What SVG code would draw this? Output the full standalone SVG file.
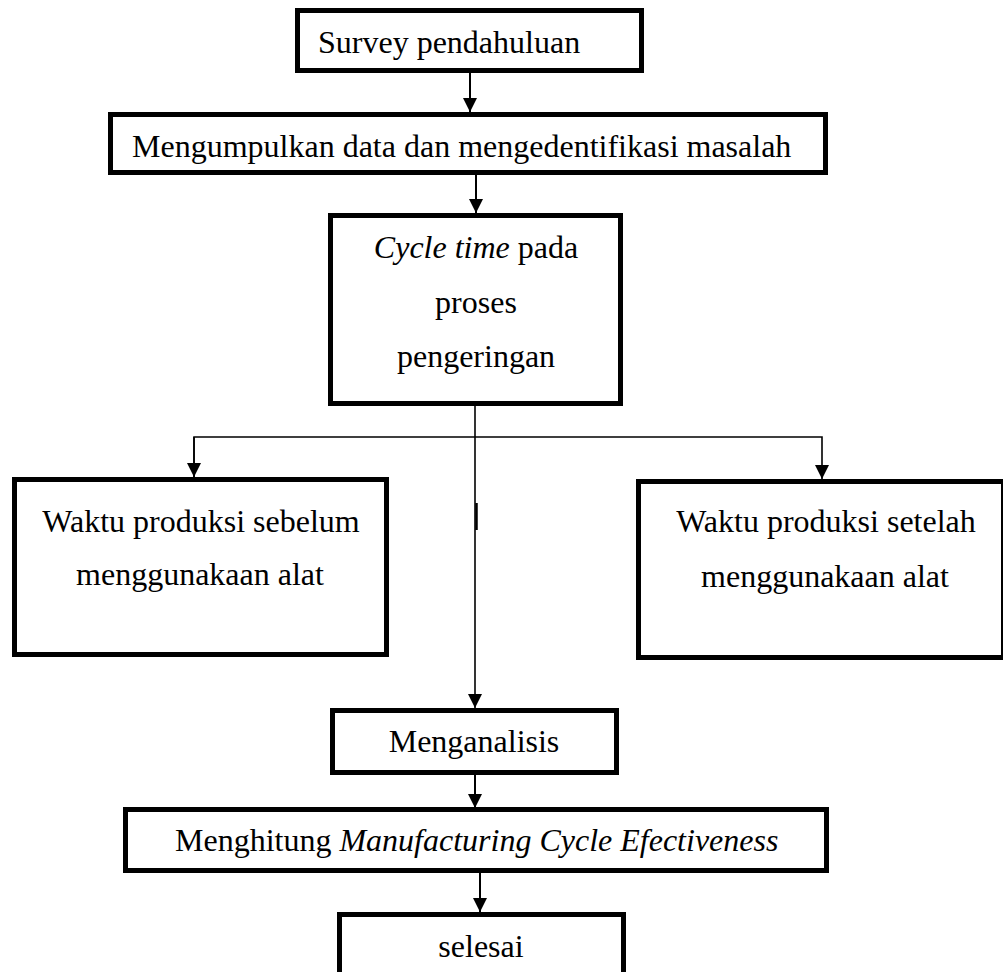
<svg xmlns="http://www.w3.org/2000/svg" width="1003" height="972" viewBox="0 0 1003 972">
<style>
.box{fill:#fff;stroke:#000;stroke-width:5}
.t{font-family:"Liberation Serif","Times New Roman",serif;font-size:32px;fill:#000}
.c{text-anchor:middle}
.it{font-style:italic}
.ln{fill:none;stroke:#000;stroke-width:2}
.thin{fill:none;stroke:#000;stroke-width:1.6}
</style>
<defs>
<marker id="ah" viewBox="0 0 14 14" refX="14" refY="7" markerWidth="14" markerHeight="14" markerUnits="userSpaceOnUse" orient="auto">
<path d="M0,0 L14,7 L0,14 z" fill="#000"/>
</marker>
</defs>
<rect width="1003" height="972" fill="#fff"/>
<g id="connectors">
<line class="ln" x1="470" y1="73" x2="470" y2="112" marker-end="url(#ah)"/>
<line class="ln" x1="476" y1="175" x2="476" y2="213" marker-end="url(#ah)"/>
<line class="thin" x1="475" y1="406" x2="475" y2="708" marker-end="url(#ah)"/>
<line class="thin" x1="476.5" y1="503" x2="476.5" y2="530" style="stroke-width:2.5"/>
<polyline class="thin" points="194,477 194,437 822,437 822,479" marker-end="url(#ah)"/>
<line class="thin" x1="194" y1="437" x2="194" y2="477" marker-end="url(#ah)"/>
<line class="ln" x1="475" y1="775" x2="475" y2="808" marker-end="url(#ah)"/>
<line class="ln" x1="480" y1="873" x2="480" y2="912" marker-end="url(#ah)"/>
</g>
<g id="n1">
<rect class="box" x="297.5" y="10.5" width="344" height="60"/>
<text class="t" x="318" y="53">Survey pendahuluan</text>
</g>
<g id="n2">
<rect class="box" x="110.5" y="114.5" width="715" height="58"/>
<text class="t" x="132" y="157">Mengumpulkan data dan mengedentifikasi masalah</text>
</g>
<g id="n3">
<rect class="box" x="330.5" y="215.5" width="290" height="188"/>
<text class="t c" x="476" y="258"><tspan class="it">Cycle time</tspan> pada</text>
<text class="t c" x="476" y="313">proses</text>
<text class="t c" x="476" y="367">pengeringan</text>
</g>
<g id="n4">
<rect class="box" x="14.5" y="479.5" width="372" height="175"/>
<text class="t c" x="201" y="532">Waktu produksi sebelum</text>
<text class="t c" x="200" y="585">menggunakaan alat</text>
</g>
<g id="n5">
<rect class="box" x="638.5" y="481.5" width="365" height="176"/>
<text class="t c" x="826" y="532">Waktu produksi setelah</text>
<text class="t c" x="825" y="587">menggunakaan alat</text>
</g>
<g id="n6">
<rect class="box" x="332.5" y="710.5" width="284" height="62"/>
<text class="t c" x="474" y="752">Menganalisis</text>
</g>
<g id="n7">
<rect class="box" x="125.5" y="809.5" width="701" height="61"/>
<text class="t" x="175" y="851">Menghitung <tspan class="it">Manufacturing Cycle Efectiveness</tspan></text>
</g>
<g id="n8">
<rect class="box" x="339.5" y="914.5" width="284" height="80"/>
<text class="t c" x="481" y="957">selesai</text>
</g>
</svg>
